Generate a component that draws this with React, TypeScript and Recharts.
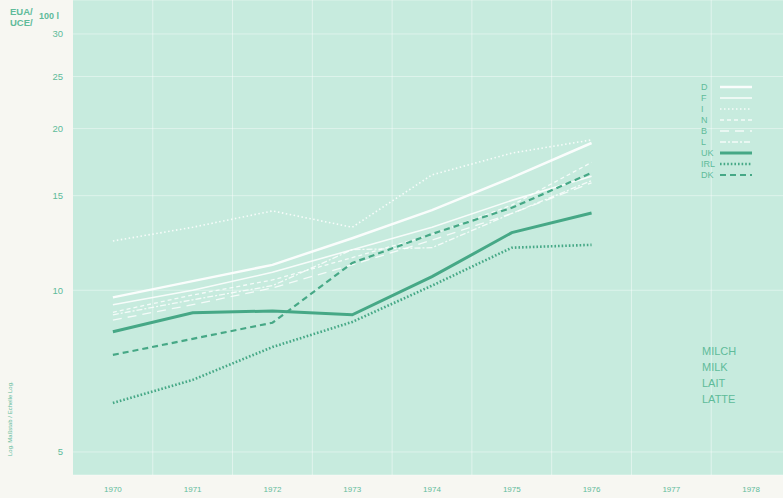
import { LineChart, Line, XAxis, YAxis, CartesianGrid, ReferenceLine } from "recharts";

const YEARS = [1970, 1971, 1972, 1973, 1974, 1975, 1976];
const AXIS_YEARS = [1970, 1971, 1972, 1973, 1974, 1975, 1976, 1977, 1978];
const GRID_YEARS = [1970.5, 1971.5, 1972.5, 1973.5, 1974.5, 1975.5, 1976.5, 1977.5];
const Y_TICKS = [5, 10, 15, 20, 25, 30];

// EUA/UCE per 100 l
const D_VALUES = [9.7, 10.4, 11.15, 12.5, 14.1, 16.2, 18.8];
const F_VALUES = [9.4, 10.0, 10.8, 11.9, 13.1, 14.7, 16.3];
const I_VALUES = [12.35, 13.1, 14.05, 13.1, 16.4, 18.0, 19.05];
const N_VALUES = [9.1, 9.8, 10.45, 11.5, 12.7, 14.4, 17.3];
const B_VALUES = [8.8, 9.4, 10.1, 11.15, 12.4, 13.9, 15.85];
const L_VALUES = [9.0, 9.6, 10.2, 11.9, 12.0, 13.9, 16.0];
const UK_VALUES = [8.37, 9.08, 9.15, 9.0, 10.6, 12.8, 13.93];
const IRL_VALUES = [6.17, 6.81, 7.84, 8.73, 10.2, 12.0, 12.15];
const DK_VALUES = [7.58, 8.12, 8.7, 11.24, 12.73, 14.24, 16.54];

const PRODUCT_NAMES = ["MILCH", "MILK", "LAIT", "LATTE"];

const GREEN = "#46a886";
const TEXT = "#5fbb9a";
const WHITE = "#ffffff";

const SERIES = [
  { key: "D", values: D_VALUES, stroke: WHITE, width: 2.5, dash: undefined, opacity: 0.9 },
  { key: "F", values: F_VALUES, stroke: WHITE, width: 1.6, dash: undefined, opacity: 0.85 },
  { key: "I", values: I_VALUES, stroke: WHITE, width: 1.6, dash: "1.5 2.5", opacity: 0.85 },
  { key: "N", values: N_VALUES, stroke: WHITE, width: 1.3, dash: "4 3", opacity: 0.8 },
  { key: "B", values: B_VALUES, stroke: WHITE, width: 1.3, dash: "9 6", opacity: 0.8 },
  { key: "L", values: L_VALUES, stroke: WHITE, width: 1.3, dash: "6 2 2 2", opacity: 0.8 },
  { key: "UK", values: UK_VALUES, stroke: GREEN, width: 3, dash: undefined, opacity: 1 },
  { key: "IRL", values: IRL_VALUES, stroke: GREEN, width: 2.6, dash: "1.6 2", opacity: 1 },
  { key: "DK", values: DK_VALUES, stroke: GREEN, width: 2.2, dash: "6 4", opacity: 1 },
];

const data = YEARS.map((year, i) => {
  const row: Record<string, number> = { year };
  SERIES.forEach((s) => {
    row[s.key] = s.values[i];
  });
  return row;
});

const FONT = "'Liberation Sans', Arial, sans-serif";

export default function App() {
  return (
    <div
      style={{
        position: "absolute",
        left: 0,
        top: 0,
        width: 783,
        height: 498,
        overflow: "hidden",
        background: "#f7f7f2",
        fontFamily: FONT,
      }}
    >
      <LineChart width={791} height={498} data={data} margin={{ top: 0, right: 0, bottom: 0, left: 0 }}>
        <CartesianGrid
          vertical={false}
          fill="#c7ebde"
          stroke={WHITE}
          strokeOpacity={0.4}
          strokeWidth={1}
        />
        {GRID_YEARS.map((g) => (
          <ReferenceLine key={g} x={g} stroke={WHITE} strokeOpacity={0.45} strokeWidth={1} />
        ))}
        <XAxis
          dataKey="year"
          type="number"
          domain={[1969.5, 1978.5]}
          ticks={AXIS_YEARS}
          axisLine={false}
          tickLine={false}
          tickSize={6}
          tickMargin={5}
          height={23}
          tick={{ fill: TEXT, fontSize: 8, fontFamily: FONT }}
          allowDataOverflow
        />
        <YAxis
          scale="log"
          domain={[4.53, 34.7]}
          ticks={Y_TICKS}
          axisLine={false}
          tickLine={false}
          tickSize={6}
          tickMargin={4}
          width={73}
          tick={{ fill: TEXT, fontSize: 9.5, fontFamily: FONT }}
          allowDataOverflow
        />
        {SERIES.map((s) => (
          <Line
            key={s.key}
            dataKey={s.key}
            stroke={s.stroke}
            strokeWidth={s.width}
            strokeDasharray={s.dash}
            strokeOpacity={s.opacity}
            dot={false}
            activeDot={false}
            type="linear"
            isAnimationActive={false}
          />
        ))}
      </LineChart>
      <svg
        width={783}
        height={498}
        style={{ position: "absolute", left: 0, top: 0, pointerEvents: "none" }}
      >
        <text x={10} y={15} fill={TEXT} fontSize={9.5} fontWeight="bold" fontFamily={FONT}>EUA/</text>
        <text x={10} y={26} fill={TEXT} fontSize={9.5} fontWeight="bold" fontFamily={FONT}>UCE/</text>
        <text x={39} y={19} fill={TEXT} fontSize={9} fontWeight="bold" fontFamily={FONT}>100 l</text>
        <text
          x={12}
          y={456}
          transform="rotate(-90 12 456)"
          fill={TEXT}
          fontSize={6}
          fontFamily={FONT}
        >
          Log. Maßstab / Echelle Log.
        </text>
        {SERIES.map((s, i) => {
          const y = 87 + i * 11;
          return (
            <g key={s.key}>
              <text x={701} y={y + 3} fill={TEXT} fontSize={9} fontFamily={FONT}>
                {s.key}
              </text>
              <line
                x1={720}
                x2={752}
                y1={y}
                y2={y}
                stroke={s.stroke}
                strokeWidth={s.width}
                strokeDasharray={s.dash}
                strokeOpacity={s.opacity}
              />
            </g>
          );
        })}
        {PRODUCT_NAMES.map((name, i) => (
          <text key={name} x={702} y={355 + i * 16} fill={TEXT} fontSize={11} fontFamily={FONT}>
            {name}
          </text>
        ))}
      </svg>
    </div>
  );
}
